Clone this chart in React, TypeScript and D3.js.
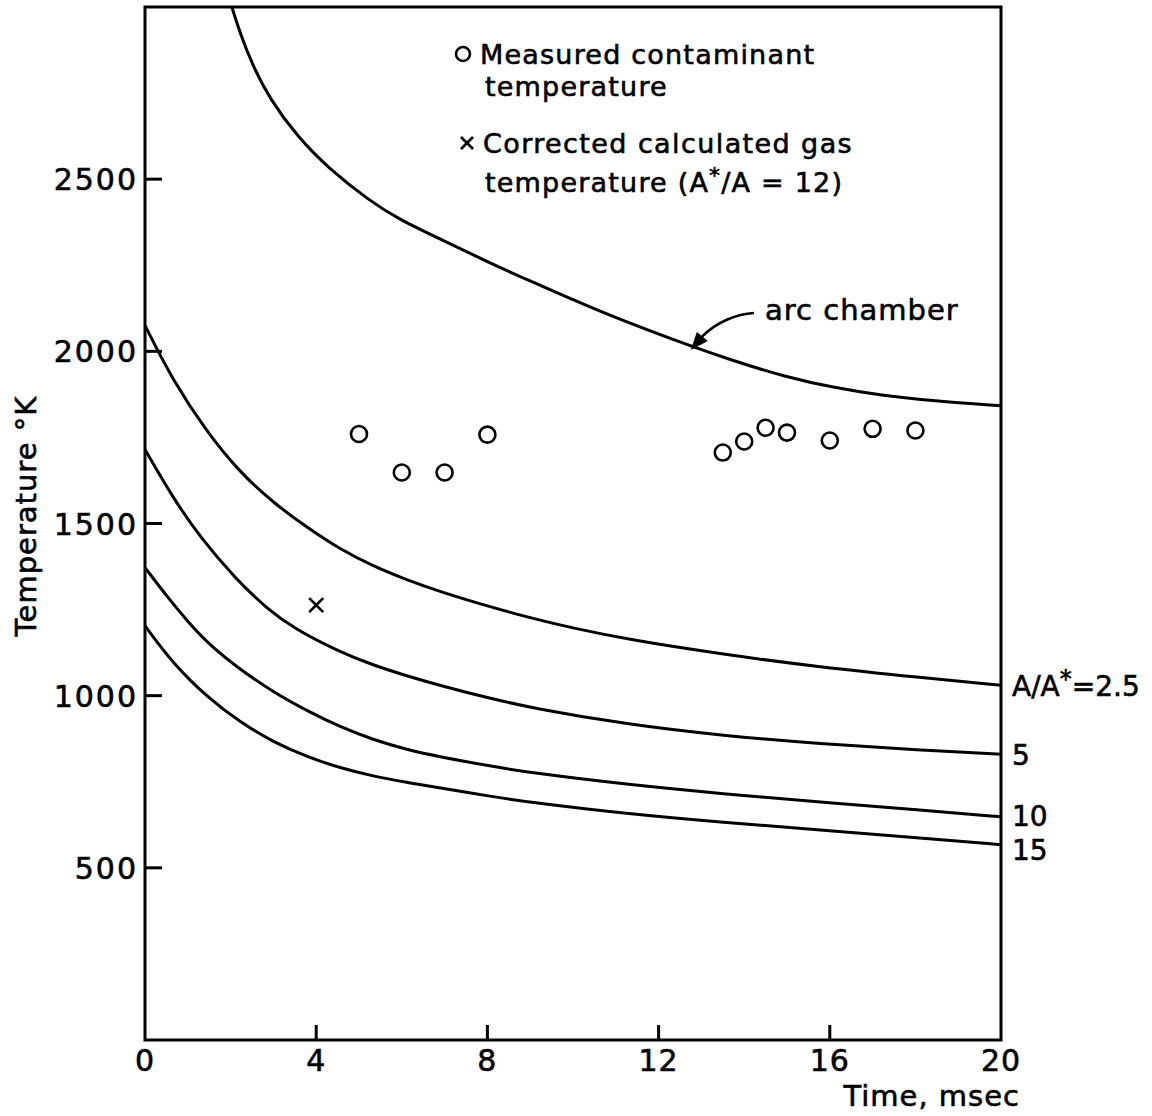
import React from "react";
import * as d3 from "d3";

// ---- data ----
const xTicks = [0, 4, 8, 12, 16, 20];
const yTicks = [500, 1000, 1500, 2000, 2500];

const arcT = [2.03, 2.22, 2.52, 2.92, 3.55, 4.28, 5.26, 5.91, 7, 8, 9, 10.63, 12.2, 13.74, 15, 16.07, 17.2, 18.41, 20];
const arcK = [3000, 2924, 2828, 2732, 2625, 2532, 2436, 2385, 2320, 2260, 2204, 2115, 2040, 1972, 1925, 1895, 1872, 1856, 1842];

const c25T = [0, 0.65, 1.45, 2.22, 3, 3.8, 4.56, 5.33, 6.12, 6.89, 8, 9, 10, 11.33, 13.5, 15.77, 18.1, 20];
const c25K = [2075, 1915, 1765, 1648, 1560, 1487, 1425, 1376, 1336, 1302, 1260, 1226, 1196, 1162, 1120, 1083, 1053, 1030];

const c5T = [0, 0.65, 1.3, 2.1, 2.85, 3.5, 4.5, 5.3, 6.1, 7, 8, 9, 11.33, 13.5, 15.77, 18.1, 20];
const c5K = [1715, 1575, 1458, 1342, 1252, 1194, 1130, 1090, 1058, 1026, 994, 965, 915, 884, 860, 842, 830];

const c10T = [0, 0.5, 1, 1.5, 2.2, 3, 3.8, 4.56, 5.33, 6.12, 6.9, 8, 9, 11.33, 13.5, 15.77, 18.1, 20];
const c10K = [1372, 1290, 1215, 1148, 1078, 1010, 955, 909, 872, 843, 822, 797, 776, 741, 715, 691, 668, 648];

const c15T = [0, 0.65, 1.45, 2.22, 3, 3.8, 4.56, 5.33, 6.12, 6.89, 8, 9, 11.33, 13.5, 15.77, 18.1, 20];
const c15K = [1203, 1094, 996, 923, 865, 822, 790, 766, 748, 732, 709, 690, 656, 632, 610, 587, 567];

const measuredT = [5, 6, 7, 8, 13.5, 14, 14.5, 15, 16, 17, 18];
const measuredK = [1760, 1648, 1648, 1758, 1706, 1738, 1778, 1764, 1741, 1775, 1770];

const correctedT = [4];
const correctedK = [1263];

const curveLabels = ["2.5", "5", "10", "15"];

const FONT = "'DejaVu Sans', sans-serif";
const TXT = { fill: "#000", stroke: "#000", strokeWidth: 0.6 };

export default function App() {
  const x = d3.scaleLinear().domain([0, 20]).range([145, 1001]);
  const y = d3.scaleLinear().domain([0, 3000]).range([1040, 7]);

  const line = d3
    .line<[number, number]>()
    .x((d) => x(d[0]))
    .y((d) => y(d[1]))
    .curve(d3.curveBasis);

  const zip = (a: number[], b: number[]) => a.map((t, i) => [t, b[i]] as [number, number]);
  const curves = [
    zip(arcT, arcK),
    zip(c25T, c25K),
    zip(c5T, c5K),
    zip(c10T, c10K),
    zip(c15T, c15K),
  ];
  const ends = [c25K, c5K, c10K, c15K].map((k) => k[k.length - 1]);
  const labelOffsets = [11, 11, 9, 15];

  // arrow anchor on the arc chamber curve
  const tipX = x(12.8);
  const tipY = y(2010);

  return (
    <svg
      width={1152}
      height={1116}
      style={{ position: "absolute", left: 0, top: 0, background: "#fff" }}
      fontFamily={FONT}
    >
      <defs>
        <clipPath id="plotclip">
          <rect x={145} y={7} width={856} height={1033} />
        </clipPath>
      </defs>
      <rect x={0} y={0} width={1152} height={1116} fill="#fff" />

      {/* frame */}
      <rect x={145} y={7} width={856} height={1033} fill="none" stroke="#000" strokeWidth={3} />

      {/* y ticks */}
      {yTicks.map((v) => (
        <g key={"y" + v}>
          <line x1={145} x2={162} y1={y(v)} y2={y(v)} stroke="#000" strokeWidth={3} />
          <text x={138} y={y(v) + 11} textAnchor="end" fontSize={30} letterSpacing={2} {...TXT}>
            {v}
          </text>
        </g>
      ))}

      {/* x ticks */}
      {xTicks.map((v) => (
        <g key={"x" + v}>
          {v > 0 && v < 20 && (
            <line x1={x(v)} x2={x(v)} y1={1040} y2={1025} stroke="#000" strokeWidth={3} />
          )}
          <text x={x(v)} y={1071} textAnchor="middle" fontSize={30} letterSpacing={1} {...TXT}>
            {v}
          </text>
        </g>
      ))}

      {/* axis titles */}
      <text x={1020} y={1106} textAnchor="end" fontSize={29} letterSpacing={1} {...TXT}>
        Time, msec
      </text>
      <text
        transform={`translate(36,516) rotate(-90)`}
        textAnchor="middle"
        fontSize={29}
        letterSpacing={1}
        {...TXT}
      >
        Temperature °K
      </text>

      {/* curves */}
      <g clipPath="url(#plotclip)">
        {curves.map((c, i) => (
          <path key={i} d={line(c) || ""} fill="none" stroke="#000" strokeWidth={3} />
        ))}
      </g>

      {/* measured points */}
      {measuredT.map((t, i) => (
        <circle key={"m" + i} cx={x(t)} cy={y(measuredK[i])} r={8} fill="none" stroke="#000" strokeWidth={2.6} />
      ))}

      {/* corrected calculated gas temperature */}
      {correctedT.map((t, i) => (
        <g key={"c" + i} stroke="#000" strokeWidth={2.6}>
          <line x1={x(t) - 7} x2={x(t) + 7} y1={y(correctedK[i]) - 7} y2={y(correctedK[i]) + 7} />
          <line x1={x(t) - 7} x2={x(t) + 7} y1={y(correctedK[i]) + 7} y2={y(correctedK[i]) - 7} />
        </g>
      ))}

      {/* right-hand curve labels */}
      {curveLabels.map((lab, i) => {
        const yy = y(ends[i]) + labelOffsets[i];
        return (
          <text key={"l" + i} x={1012} y={yy} fontSize={28} {...TXT}>
            {i === 0 ? (
              <>
                A/A
                <tspan dy={-9} fontSize={24}>*</tspan>
                <tspan dy={9}>={lab}</tspan>
              </>
            ) : (
              lab
            )}
          </text>
        );
      })}

      {/* arc chamber annotation */}
      <text x={765} y={320} fontSize={29} letterSpacing={1} {...TXT}>
        arc chamber
      </text>
      <path
        d={`M 754 313 C 737 314, 716 322, ${tipX + 9} ${tipY - 11}`}
        fill="none"
        stroke="#000"
        strokeWidth={2.5}
      />
      <path
        d={`M ${tipX - 2} ${tipY + 2} L ${tipX + 4} ${tipY - 16} L ${tipX + 15} ${tipY - 7} Z`}
        fill="#000"
      />

      {/* legend */}
      <circle cx={463} cy={54} r={7} fill="none" stroke="#000" strokeWidth={2.6} />
      <text x={480} y={64} fontSize={27} letterSpacing={1.2} {...TXT}>
        Measured contaminant
      </text>
      <text x={485} y={96} fontSize={27} letterSpacing={1.2} {...TXT}>
        temperature
      </text>
      <g stroke="#000" strokeWidth={2.6}>
        <line x1={461} x2={473} y1={137} y2={149} />
        <line x1={461} x2={473} y1={149} y2={137} />
      </g>
      <text x={483} y={153} fontSize={27} letterSpacing={1.4} {...TXT}>
        Corrected calculated gas
      </text>
      <text x={485} y={192} fontSize={27} letterSpacing={1.2} {...TXT}>
        temperature  (A
        <tspan dy={-9} fontSize={22}>*</tspan>
        <tspan dy={9}>/A = 12)</tspan>
      </text>
    </svg>
  );
}
